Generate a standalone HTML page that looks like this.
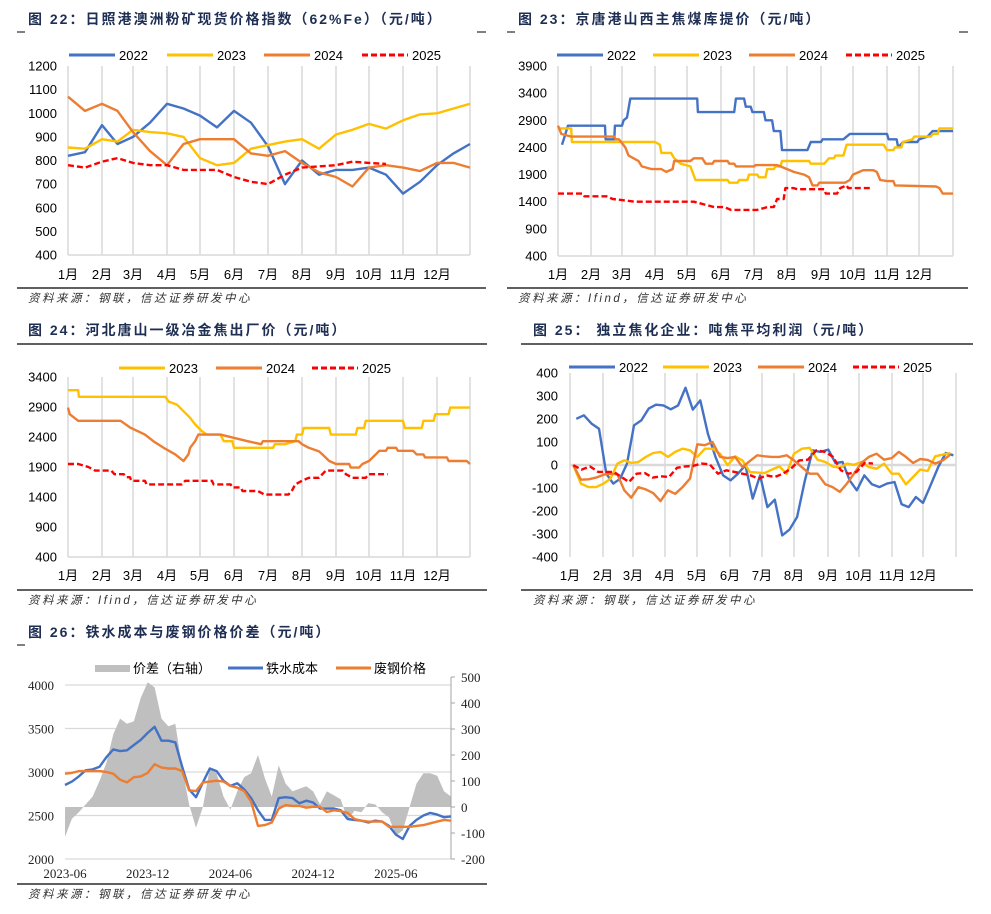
<!DOCTYPE html>
<html><head><meta charset="utf-8">
<style>
html,body{margin:0;padding:0;background:#fff;}
body{width:991px;height:914px;overflow:hidden;}
svg{display:block;}
.tt{letter-spacing:2px;}
.src{letter-spacing:2.5px;}
</style></head>
<body>
<svg id="page" width="991" height="914" viewBox="0 0 991 914" xmlns="http://www.w3.org/2000/svg" font-family="'Liberation Sans','Noto Sans CJK SC',sans-serif">
<g id="static">
  <text class="tt" x="28" y="24" font-size="14" font-weight="bold" fill="#1f2f54">图 22：日照港澳洲粉矿现货价格指数（62%Fe）（元/吨）</text>
  <line x1="17" y1="32" x2="25" y2="32" stroke="#000" stroke-width="1"/>
  <line x1="477" y1="32" x2="486" y2="32" stroke="#000" stroke-width="1"/>
  <line x1="17" y1="288" x2="486" y2="288" stroke="#000" stroke-width="1.2"/>
  <text class="src" x="28" y="302" font-size="11.5" font-style="italic" fill="#333">资料来源：钢联，信达证券研发中心</text>
  <text class="tt" x="518" y="24" font-size="14" font-weight="bold" fill="#1f2f54">图 23：京唐港山西主焦煤库提价（元/吨）</text>
  <line x1="507" y1="32" x2="515" y2="32" stroke="#000" stroke-width="1"/>
  <line x1="959" y1="32" x2="968" y2="32" stroke="#000" stroke-width="1"/>
  <line x1="507" y1="288" x2="968" y2="288" stroke="#000" stroke-width="1.2"/>
  <text class="src" x="518" y="302" font-size="11.5" font-style="italic" fill="#333">资料来源：Ifind，信达证券研发中心</text>
  <text class="tt" x="28" y="335" font-size="14" font-weight="bold" fill="#1f2f54">图 24：河北唐山一级冶金焦出厂价（元/吨）</text>
  <line x1="17" y1="344" x2="487" y2="344" stroke="#000" stroke-width="1.2"/>
  <line x1="17" y1="590" x2="487" y2="590" stroke="#000" stroke-width="1.2"/>
  <text class="src" x="28" y="604" font-size="11.5" font-style="italic" fill="#333">资料来源：Ifind，信达证券研发中心</text>
  <text class="tt" x="533" y="335" font-size="14" font-weight="bold" fill="#1f2f54">图 25：  独立焦化企业：吨焦平均利润（元/吨）</text>
  <line x1="521" y1="344" x2="973" y2="344" stroke="#000" stroke-width="1.2"/>
  <line x1="521" y1="590" x2="973" y2="590" stroke="#000" stroke-width="1.2"/>
  <text class="src" x="533" y="604" font-size="11.5" font-style="italic" fill="#333">资料来源：钢联，信达证券研发中心</text>
  <text class="tt" x="28" y="637" font-size="14" font-weight="bold" fill="#1f2f54">图 26：铁水成本与废钢价格价差（元/吨）</text>
  <line x1="17" y1="645" x2="25" y2="645" stroke="#000" stroke-width="1"/>
  <line x1="17" y1="884" x2="487" y2="884" stroke="#000" stroke-width="1.2"/>
  <text class="src" x="28" y="898" font-size="11.5" font-style="italic" fill="#333">资料来源：钢联，信达证券研发中心</text>
</g>
<g id="dyn"></g>
</svg>
<script>
// ---------- Chart 22 data (half-month steps) ----------
const c22Ticks = [400,500,600,700,800,900,1000,1100,1200];
const c22Months = ['1月','2月','3月','4月','5月','6月','7月','8月','9月','10月','11月','12月'];
const c22_2022 = [820,835,950,870,900,960,1040,1020,990,940,1010,960,860,700,800,740,760,760,770,740,660,710,780,830,870];
const c22_2023 = [855,850,890,880,930,920,915,900,810,780,790,850,865,880,890,850,910,930,955,935,970,995,1000,1020,1040];
const c22_2024 = [1070,1010,1040,1010,920,840,780,870,890,890,890,830,820,840,790,750,730,690,770,780,770,755,790,790,770];
const c22_2025 = [780,770,795,810,790,780,780,760,760,760,730,710,700,740,770,775,780,795,790,785];

// ---------- Chart 23 data (month, value) ----------
const c23Ticks = [400,900,1400,1900,2400,2900,3400,3900];
const c23_2022_m = [0.12,0.2,0.3,1.45,1.47,1.75,1.77,2.0,2.05,2.15,2.25,4.3,4.32,5.4,5.45,5.7,5.75,5.9,5.95,6.3,6.35,6.55,6.6,6.8,6.85,7.6,7.7,8.0,8.05,8.7,8.9,10.0,10.05,10.3,10.35,10.5,10.95,11.0,11.25,11.4,12];
const c23_2022_v = [2450,2600,2800,2800,2550,2550,2800,2800,2900,2950,3300,3300,3050,3050,3300,3300,3150,3150,3050,3050,2900,2900,2700,2700,2350,2350,2500,2500,2550,2550,2650,2650,2550,2550,2400,2500,2500,2550,2600,2700,2700];
const c23_2023_m = [0,0.4,0.42,3.0,3.15,3.2,3.5,3.6,3.8,4.1,4.25,5.2,5.25,5.5,5.55,5.8,5.85,6.1,6.15,6.35,6.4,6.6,6.65,6.8,6.85,7.65,7.7,8.1,8.25,8.4,8.45,8.7,8.8,9.9,10.0,10.2,10.25,10.45,10.5,10.8,10.85,11.35,11.4,11.55,11.6,12];
const c23_2023_v = [2750,2750,2500,2500,2450,2300,2300,2200,2100,2050,1800,1800,1750,1750,1800,1800,1900,1900,1850,1850,2000,2000,2050,2050,2150,2150,2100,2100,2200,2200,2250,2250,2450,2450,2350,2350,2400,2400,2500,2550,2600,2600,2650,2650,2750,2750];
const c23_2024_m = [0,0.1,0.4,1.75,1.8,1.9,2.1,2.2,2.5,2.6,2.9,3.2,3.35,3.55,3.6,4.1,4.2,4.45,4.55,4.75,4.8,5.2,5.25,5.4,5.45,6.0,6.05,6.7,6.8,7.2,7.5,7.65,7.75,7.9,7.95,8.75,8.9,9.0,9.3,9.6,9.7,9.8,10.0,10.2,10.25,11.5,11.6,11.7,12];
const c23_2024_v = [2800,2650,2600,2600,2550,2550,2400,2250,2150,2050,2000,2000,1950,2000,2150,2150,2200,2200,2100,2100,2150,2150,2100,2100,2050,2050,2075,2075,2050,1950,1900,1850,1700,1700,1750,1750,1800,1900,1980,1980,1950,1800,1780,1780,1700,1680,1650,1550,1550];
const c23_2025_m = [0,0.75,0.8,1.5,1.7,2.0,2.4,4.2,4.5,4.8,5.1,5.3,6.1,6.4,6.6,6.7,6.9,6.95,7.2,7.3,8.1,8.15,8.5,8.6,8.8,8.85,9.2,9.5];
const c23_2025_v = [1550,1550,1500,1500,1450,1430,1400,1400,1350,1300,1300,1250,1250,1300,1300,1450,1450,1650,1650,1630,1630,1550,1550,1650,1700,1650,1650,1650];

// ---------- Chart 24 data ----------
const c24Ticks = [400,900,1400,1900,2400,2900,3400];
const c24_2023_m = [0,0.3,0.32,2.95,3.05,3.3,3.5,3.7,3.85,4.05,4.2,4.6,4.7,4.95,5.0,6.15,6.2,6.5,6.8,6.85,7.0,7.05,7.8,7.85,8.6,8.65,8.85,8.9,10.0,10.05,10.55,10.6,10.9,10.95,11.35,11.4,12];
const c24_2023_v = [3180,3180,3070,3070,2990,2940,2830,2720,2610,2500,2440,2440,2330,2330,2220,2220,2280,2280,2330,2440,2440,2550,2550,2440,2440,2550,2550,2670,2670,2550,2550,2670,2670,2780,2780,2890,2890];
const c24_2024_m = [0,0.05,0.3,1.6,1.9,2.35,2.6,2.9,3.25,3.5,3.65,3.7,3.85,3.95,4.6,5.4,5.8,5.85,6.9,7.0,7.2,7.5,7.6,7.8,8.0,8.4,8.45,8.7,8.8,9.0,9.2,9.3,9.5,9.55,9.8,9.85,10.3,10.4,10.6,10.65,11.3,11.35,11.9,12];
const c24_2024_v = [2890,2780,2670,2670,2560,2440,2330,2220,2110,2000,2110,2220,2330,2440,2440,2330,2280,2330,2330,2280,2220,2160,2110,2000,1950,1950,1890,1890,1950,2000,2110,2170,2170,2220,2220,2170,2170,2110,2110,2060,2060,2000,2000,1950];
const c24_2025_m = [0,0.3,0.6,0.8,1.3,1.4,1.7,1.8,1.9,1.95,2.35,2.4,3.45,3.55,4.35,4.4,4.9,4.95,5.2,5.25,5.7,5.9,6.6,6.7,6.8,7.0,7.2,7.5,7.6,7.7,8.2,8.3,8.5,8.9,9.0,9.55];
const c24_2025_v = [1950,1950,1900,1840,1840,1780,1780,1730,1730,1670,1670,1610,1610,1670,1670,1610,1610,1560,1560,1500,1500,1440,1440,1500,1610,1670,1720,1720,1780,1840,1840,1780,1720,1720,1780,1780];

// ---------- Chart 25 data (weekly samples) ----------
const c25Ticks = [-400,-300,-200,-100,0,100,200,300,400];
const c25_2022_start = 0.19, c25_2022_step = 0.23;
const c25_2022 = [201,216,180,158,-38,-81,-60,6,172,194,245,262,259,242,259,336,241,281,136,35,-45,-67,-38,-1,-146,-45,-183,-151,-306,-281,-226,-67,64,57,67,9,13,-67,-110,-45,-84,-96,-81,-74,-171,-183,-139,-165,-88,-9,52,42];
const c25_2023_start = 0.10, c25_2023_step = 0.23;
const c25_2023 = [-1,-81,-96,-96,-81,-59,6,20,9,13,35,52,57,35,57,71,64,35,71,71,49,-1,38,20,-30,-33,-35,-20,-6,-38,49,71,75,23,13,-6,-12,6,1,13,-9,-16,6,-38,-38,-84,-52,-20,-26,38,45,52];
const c25_2024_start = 0.10, c25_2024_step = 0.23;
const c25_2024 = [-1,-64,-62,-55,-42,-38,-41,-110,-142,-96,-106,-122,-157,-110,-125,-96,-59,90,86,100,35,30,35,-9,17,42,38,35,35,42,20,-9,-38,-38,-84,-96,-117,-81,-38,9,35,49,23,30,57,35,9,26,22,6,20,45];
const c25_2025_start = 0.10, c25_2025_step = 0.252;
const c25_2025 = [-1,-20,-6,-30,-30,-30,-52,-74,-38,-35,-55,-49,-52,-12,-6,-4,6,3,-38,-23,-30,-38,-45,-59,-45,-52,-38,-16,20,23,64,57,35,-23,-38,-30,9,6];

// ---------- Chart 26 data (half-month steps from 2023-06) ----------
const c26LeftTicks = [2000,2500,3000,3500,4000];
const c26RightTicks = [-200,-100,0,100,200,300,400,500];
const c26DateLabels = ['2023-06','2023-12','2024-06','2024-12','2025-06'];
const c26DateMonths = [0,6,12,18,24];
const c26Cost = [2850,2890,2950,3020,3030,3060,3170,3260,3240,3250,3310,3370,3450,3520,3360,3360,3340,3060,2800,2710,2880,3040,3010,2900,2840,2870,2800,2700,2560,2450,2450,2700,2710,2700,2640,2670,2650,2580,2580,2580,2560,2460,2450,2440,2420,2440,2430,2380,2280,2230,2380,2450,2500,2530,2510,2480,2490];
const c26Scrap = [2980,2990,3010,3010,3010,3010,3000,2980,2910,2880,2940,2950,2990,3090,3050,3040,3040,3010,2790,2780,2880,2890,2900,2890,2840,2820,2780,2660,2380,2390,2420,2580,2620,2610,2610,2590,2600,2600,2540,2560,2550,2530,2460,2440,2430,2430,2430,2370,2370,2370,2370,2380,2390,2410,2430,2450,2440];
const c26Diff = [-115,-45,-20,10,40,100,170,280,340,320,330,420,480,460,340,310,320,150,10,-80,0,150,130,40,-10,60,115,130,200,110,40,160,90,60,70,80,60,10,60,45,30,-50,-15,-20,15,10,-20,-40,-110,-90,0,90,130,130,120,60,40];

const NS='http://www.w3.org/2000/svg';
const root=document.getElementById('dyn');
function el(tag,attrs,parent){const e=document.createElementNS(NS,tag);for(const k in attrs)e.setAttribute(k,attrs[k]);(parent||root).appendChild(e);return e;}
const COL={b:'#4472C4',y:'#FFC000',o:'#ED7D31',r:'#FF0000'};

function monthScale(grid){return m=>{const i=Math.max(0,Math.min(11,Math.floor(m)));return grid[i]+(grid[i+1]-grid[i])*(m-i);};}
function linScale(d0,d1,r0,r1){return v=>r0+(v-d0)/(d1-d0)*(r1-r0);}

function seasonal(cfg){
  const g=el('g',{});
  
  
  const X=monthScale(cfg.grid), Y=linScale(cfg.ticks[0],cfg.ticks[cfg.ticks.length-1],cfg.y0,cfg.y1);
  cfg.grid.forEach(x=>{const l=el('line',{x1:x,x2:x,y1:cfg.y1,y2:cfg.y0,stroke:'#d9d9d9','stroke-width':1.5},g);});
  if(cfg.zero!==undefined){const l=el('line',{x1:cfg.grid[0],x2:cfg.grid[12],y1:Y(0),y2:Y(0),stroke:'#d9d9d9','stroke-width':2.5},g);}
  else{const l=el('line',{x1:cfg.grid[0],x2:cfg.grid[12],y1:cfg.y0,y2:cfg.y0,stroke:'#d9d9d9','stroke-width':1.5},g);}
  cfg.ticks.forEach(t=>{const tx=el('text',{x:cfg.tickX,y:Y(t)+4.5,'text-anchor':'end','font-size':13,fill:'#000'},g);tx.textContent=t;});
  c22Months.forEach((m,i)=>{const tx=el('text',{x:cfg.grid[i],y:cfg.labY,'text-anchor':'middle','font-size':13,fill:'#000'},g);tx.textContent=m;});
  cfg.series.forEach(s=>{
    const pts=s.v.map((v,i)=>X(s.m[i]).toFixed(1)+','+Y(v).toFixed(1)).join(' ');
    const p=el('polyline',{points:pts,fill:'none',stroke:COL[s.c],'stroke-width':2.4,'stroke-linejoin':'round','stroke-dasharray':s.c==='r'?'6,3':'none'},g);
    
    
  });
  cfg.legend.forEach(L=>{
    const l=el('line',{x1:L.x,x2:L.x+46,y1:cfg.legY,y2:cfg.legY,stroke:COL[L.c],'stroke-width':3,'stroke-dasharray':L.c==='r'?'6,3':'none'},g);
    
    
    const t=el('text',{x:L.x+50,y:cfg.legY+5,'font-size':13,fill:'#000'},g);t.textContent=L.t;
    
    
  });
}
const half=a=>a.map((_,i)=>i/2);
const weekly=(a,s,st)=>a.map((_,i)=>s+i*st);

seasonal({name:'chart22-iron-ore-index',grid:[68,102,133,167,200,234,268,302,336,369,403,437,470],ticks:c22Ticks,y0:255,y1:66,tickX:57,labY:279,legY:55,
  series:[{m:half(c22_2022),v:c22_2022,c:'b',label:'2022'},{m:half(c22_2023),v:c22_2023,c:'y',label:'2023'},{m:half(c22_2024),v:c22_2024,c:'o',label:'2024'},{m:half(c22_2025),v:c22_2025,c:'r',label:'2025'}],
  legend:[{x:69,c:'b',t:'2022'},{x:167,c:'y',t:'2023'},{x:264,c:'o',t:'2024'},{x:362,c:'r',t:'2025'}]});
seasonal({name:'chart23-coking-coal-price',grid:[558,591,622,655,687,721,754,787,821,853,887,919,953],ticks:c23Ticks,y0:256,y1:66,tickX:547,labY:279,legY:55,
  series:[{m:c23_2022_m,v:c23_2022_v,c:'b',label:'2022'},{m:c23_2023_m,v:c23_2023_v,c:'y',label:'2023'},{m:c23_2024_m,v:c23_2024_v,c:'o',label:'2024'},{m:c23_2025_m,v:c23_2025_v,c:'r',label:'2025'}],
  legend:[{x:557,c:'b',t:'2022'},{x:653,c:'y',t:'2023'},{x:749,c:'o',t:'2024'},{x:846,c:'r',t:'2025'}]});
seasonal({name:'chart24-coke-price',grid:[68,102,133,167,200,234,268,302,336,369,403,437,470],ticks:c24Ticks,y0:557,y1:377,tickX:57,labY:580,legY:368,
  series:[{m:c24_2023_m,v:c24_2023_v,c:'y',label:'2023'},{m:c24_2024_m,v:c24_2024_v,c:'o',label:'2024'},{m:c24_2025_m,v:c24_2025_v,c:'r',label:'2025'}],
  legend:[{x:119,c:'y',t:'2023'},{x:216,c:'o',t:'2024'},{x:312,c:'r',t:'2025'}]});
seasonal({name:'chart25-coking-profit',grid:[570,603,633,665,697,730,762,794,828,859,892,923,956],ticks:c25Ticks,y0:557,y1:373,tickX:558,labY:580,legY:367,zero:true,
  series:[{m:weekly(c25_2022,c25_2022_start,c25_2022_step),v:c25_2022,c:'b',label:'2022'},{m:weekly(c25_2023,c25_2023_start,c25_2023_step),v:c25_2023,c:'y',label:'2023'},{m:weekly(c25_2024,c25_2024_start,c25_2024_step),v:c25_2024,c:'o',label:'2024'},{m:weekly(c25_2025,c25_2025_start,c25_2025_step),v:c25_2025,c:'r',label:'2025'}],
  legend:[{x:569,c:'b',t:'2022'},{x:663,c:'y',t:'2023'},{x:758,c:'o',t:'2024'},{x:853,c:'r',t:'2025'}]});

// ---------- Chart 26 ----------
(function(){
  const g=el('g',{});
  
  
  const X=linScale(0,28,65,451);
  const YL=linScale(2000,4000,859,685);
  const YR=linScale(-200,500,859,677);
  c26LeftTicks.forEach(t=>{
    const l=el('line',{x1:65,x2:451,y1:YL(t),y2:YL(t),stroke:'#d9d9d9','stroke-width':1.2},g);
    
    const tx=el('text',{x:54,y:YL(t)+5,'text-anchor':'end','font-size':13,fill:'#222','font-family':"'Liberation Serif',serif"},g);tx.textContent=t;
    
  });
  const top=c26Diff.map((v,i)=>X(i/2).toFixed(1)+','+YR(v).toFixed(1));
  const area=el('polygon',{points:X(0)+','+YR(0)+' '+top.join(' ')+' '+X((c26Diff.length-1)/2)+','+YR(0),fill:'#BFBFBF',stroke:'none'},g);
  
  const ax=el('line',{x1:451,x2:451,y1:YR(500),y2:YR(-200),stroke:'#a6a6a6','stroke-width':1},g);
  
  c26RightTicks.forEach(t=>{
    el('line',{x1:451,x2:455,y1:YR(t),y2:YR(t),stroke:'#a6a6a6','stroke-width':1},g);
    const tx=el('text',{x:461,y:YR(t)+5,'font-size':13,fill:'#222','font-family':"'Liberation Serif',serif"},g);tx.textContent=t;
    
  });
  [[c26Cost,COL.b,'hot-metal-cost-line'],[c26Scrap,COL.o,'scrap-price-line']].forEach(([a,c,n])=>{
    const p=el('polyline',{points:a.map((v,i)=>X(i/2).toFixed(1)+','+YL(v).toFixed(1)).join(' '),fill:'none',stroke:c,'stroke-width':2.4,'stroke-linejoin':'round'},g);
    
  });
  c26DateLabels.forEach((d,i)=>{
    const tx=el('text',{x:X(c26DateMonths[i]),y:878,'text-anchor':'middle','font-size':13,fill:'#222','font-family':"'Liberation Serif',serif"},g);tx.textContent=d;
    
  });
  const r=el('rect',{x:95,y:665,width:35,height:7,fill:'#BFBFBF'},g);
  
  const t1=el('text',{x:133,y:673,'font-size':13,fill:'#000'},g);t1.textContent='价差（右轴）';
  
  const l2=el('line',{x1:228,x2:263,y1:668,y2:668,stroke:COL.b,'stroke-width':3},g);
  
  const t2=el('text',{x:266,y:673,'font-size':13,fill:'#000'},g);t2.textContent='铁水成本';
  
  const l3=el('line',{x1:336,x2:371,y1:668,y2:668,stroke:COL.o,'stroke-width':3},g);
  
  const t3=el('text',{x:374,y:673,'font-size':13,fill:'#000'},g);t3.textContent='废钢价格';
  
})();
</script>
</body></html>
